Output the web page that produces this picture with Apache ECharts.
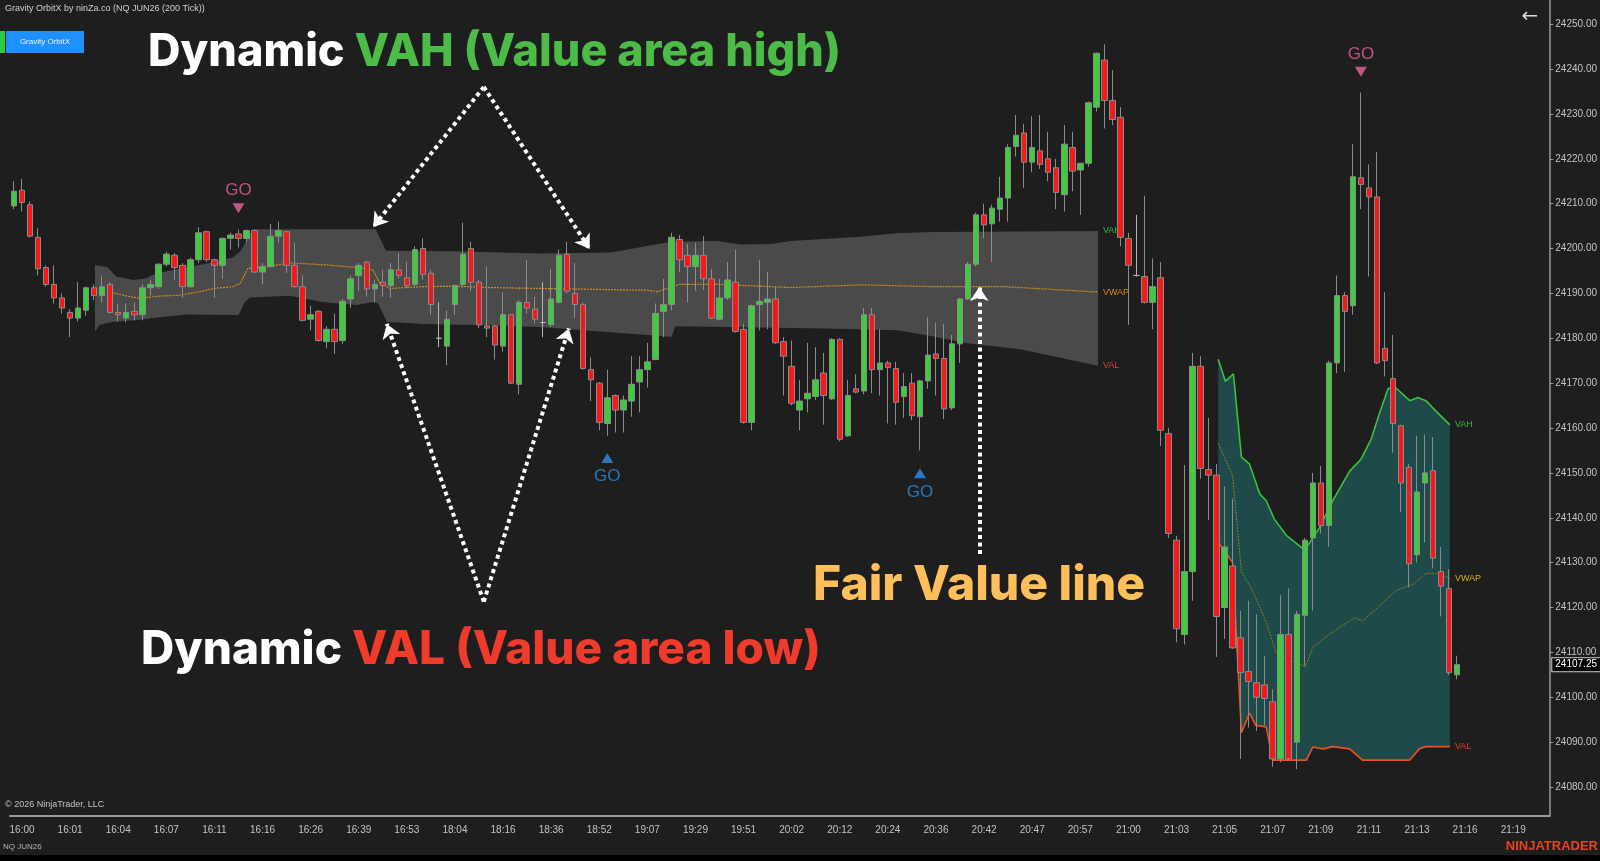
<!DOCTYPE html>
<html lang="en">
<head>
<meta charset="UTF-8">
<title>Gravity OrbitX</title>
<style>
  * { margin: 0; padding: 0; box-sizing: border-box; }
  html, body { height: 100%; background: #1e1e1e; overflow: hidden; }
  #box { width: 1600px; height: 861px; }
</style>
<script src="https://cdn.jsdelivr.net/npm/echarts@6/dist/echarts.min.js"></script>
</head>
<body>
<div id="box"></div>
<script>
// x axis time labels, one every 6 bars starting at bar 1
var timeLabels = ['16:00','16:01','16:04','16:07','16:11','16:16','16:26','16:39','16:53','18:04','18:16',
  '18:36','18:52','19:07','19:29','19:51','20:02','20:12','20:24','20:36','20:42','20:47','20:57','21:00',
  '21:03','21:05','21:07','21:09','21:11','21:13','21:16','21:19'];

// 200 tick bars: [open, close, low, high]
var candles = [
  [24209.5,24212.75,24208.75,24215],[24213,24210.25,24208.25,24215.5],[24209.75,24202.75,24202.5,24210.5],
  [24202.5,24195.5,24194,24204.5],[24195.75,24192,24191.5,24196.25],[24192,24189,24187.75,24196.25],
  [24189,24186.75,24185.5,24190],[24185.75,24184.5,24180.25,24186.5],[24184.5,24186.75,24183.75,24192.5],
  [24186.25,24191.25,24185,24191.5],[24191.25,24189.5,24188.5,24192],[24189.5,24191.5,24188,24194],
  [24192,24185.75,24185.5,24192.5],[24185.75,24185.25,24183.75,24187.75],[24184.5,24185.75,24183.5,24187.75],
  [24186,24185.25,24184,24188],[24185.25,24191.25,24184,24192],[24191.25,24192,24189.5,24193],
  [24191.5,24196.5,24191,24196.75],[24196.5,24198.75,24196,24199.25],[24198.5,24195.75,24193,24199],
  [24196.25,24191.5,24189,24196.75],[24191.5,24197.5,24191.25,24198],[24197.5,24203.5,24196.75,24204.75],
  [24203.75,24197.5,24197,24204],[24197.5,24196.25,24189,24197.75],[24196.25,24202.25,24193.25,24202.5],
  [24202.25,24203,24199.75,24203.5],[24203.25,24202.25,24200.25,24204.25],[24202.25,24204,24201.5,24204.25],
  [24204,24194.75,24194.5,24204.25],[24194.75,24196,24192,24196.75],[24196,24202.75,24195.75,24205.5],
  [24202.75,24204,24201.25,24206],[24203.75,24196.25,24194.5,24204],[24196.25,24191.5,24191.25,24201.25],
  [24191.5,24184,24183.75,24194],[24184.25,24185.25,24181.75,24187.25],[24186,24179.5,24179.25,24186.25],
  [24179.25,24182,24177.75,24182.75],[24182,24179.25,24176.5,24185.5],[24179.5,24188.25,24178.75,24188.75],
  [24188.75,24193.25,24186.75,24194],[24194,24196.25,24190.5,24196.75],[24197,24191,24189.25,24197],
  [24191,24192,24188,24193],[24192.5,24191.75,24189.25,24195.25],[24191.75,24195.25,24189,24196.75],
  [24195.25,24194,24193.25,24199],[24193.5,24191.75,24191.25,24197],[24192,24199.75,24191.5,24200.5],
  [24200,24194.25,24193,24202.25],[24194.5,24187.5,24185.25,24195.25],[24180,24180,24178,24188],
  [24178.25,24184.25,24174,24186.25],[24187.5,24191.75,24185.25,24192],[24192,24198.75,24191.25,24205.75],
  [24200,24192.5,24190.5,24201.5],[24192.5,24183,24182.25,24193],[24182.75,24182.25,24180.25,24196],
  [24182.75,24178.5,24175.25,24183],[24178.25,24185.25,24177,24190.25],[24185.25,24170,24169.75,24185.5],
  [24169.75,24188,24167.5,24188.5],[24188,24186.75,24185.5,24197.5],[24186.5,24184.25,24183.25,24189.25],
  [24183.5,24183.5,24180.25,24192.5],[24183,24188.75,24182.5,24195.5],[24188,24198.5,24187.75,24199.75],
  [24198.75,24190.5,24190,24201.5],[24190,24187.5,24184.5,24196.75],[24187.5,24173.25,24173,24188],
  [24173,24170.75,24166,24175.75],[24170,24161.25,24159.5,24170.25],[24161,24166.75,24158.25,24173],
  [24167.25,24164,24159,24167.5],[24164,24166.25,24159,24167.25],[24166,24169.75,24162.5,24176],
  [24170.25,24173,24163.5,24176],[24173,24174.75,24169,24179],[24175.25,24185.5,24175.25,24187.75],
  [24186,24187.5,24180.25,24193.25],[24187.5,24202.5,24186.25,24203.5],[24202,24197.5,24194.75,24203],
  [24198.5,24196,24188,24201],[24196,24198.5,24190.5,24201.25],[24198.5,24193.25,24190.75,24202.75],
  [24193.25,24184.5,24184.25,24195.5],[24184.25,24189,24184,24193.25],[24189,24193,24188.5,24197],
  [24192.5,24181.5,24181.25,24199.75],[24182,24161.25,24161,24183.25],[24161.25,24187.25,24159.5,24187.5],
  [24187.5,24188.25,24181.75,24197.5],[24188,24188.75,24182,24194.75],[24188.75,24179,24178.75,24191.5],
  [24179.25,24176,24167.25,24180.25],[24173.75,24165.5,24165,24179.5],[24164,24166,24159.5,24170.75],
  [24166.5,24167.75,24163.5,24179],[24167,24170.75,24166.25,24178],[24172.25,24167.25,24160.75,24176.75],
  [24166.5,24179.75,24166.25,24180],[24179.75,24157.5,24157,24180],[24158.25,24167.25,24158,24170.75],
  [24168.75,24168,24167.75,24172],[24168.25,24185.25,24167.5,24186.75],[24185.25,24173,24167.75,24186.75],
  [24173,24174.5,24167.25,24182],[24174.5,24173.5,24161,24175],[24173.25,24165.75,24160.75,24174.75],
  [24167,24169.25,24162.25,24172.25],[24170,24162.75,24161.75,24172.25],[24162.5,24170.5,24155,24170.75],
  [24170.5,24176.25,24168.75,24184.75],[24176.5,24175.5,24167.25,24183.5],[24175.5,24164.25,24162,24183.25],
  [24164.5,24178.75,24164,24180.75],[24178.75,24188.75,24174.5,24189],[24188.75,24196.5,24188.5,24197],
  [24196.5,24207.5,24196,24208],[24207.5,24205.25,24202.25,24210],[24205.5,24209,24197,24209.75],
  [24208.75,24211.25,24206,24216],[24211.25,24222.5,24206,24223.25],[24222.75,24225.25,24220.5,24229.75],
  [24225.75,24219.25,24213.5,24227.75],[24219.25,24222.5,24217,24229.5],[24221.75,24218.75,24217.75,24229.75],
  [24220,24217,24215,24226],[24218,24212.5,24208.75,24220],[24212,24223.25,24208.25,24227.5],
  [24222.5,24217.25,24212.75,24226],[24217.5,24219,24207.5,24219],[24219,24232.5,24218.25,24232.75],
  [24231.5,24243.5,24230.5,24243.75],[24242,24233,24226.75,24245.5],[24233,24228.75,24227.5,24239.75],
  [24229.25,24202.5,24200.5,24231.5],[24202.25,24196.25,24183,24203.5],[24194,24194,24193.75,24207.5],
  [24193.75,24188,24187.75,24211.75],[24188,24191.5,24182,24197.75],[24193.5,24159.5,24156,24197],
  [24158.75,24136.5,24135.5,24160],[24135,24115.25,24112.25,24136],[24114,24128,24111.75,24151.75],
  [24128,24173.75,24121.5,24176.75],[24173.75,24151,24148.75,24176],[24150.75,24149.5,24139.5,24162.25],
  [24149.5,24118,24109,24152],[24120,24133.5,24113,24147],[24129.25,24111,24110.75,24144.25],
  [24113.25,24105.5,24086.25,24119.25],[24105.75,24103.5,24093.25,24121.5],[24103.25,24100,24092.5,24118.5],
  [24102.75,24099.75,24093.75,24109.25],[24099,24086.25,24084.5,24101.75],[24086.25,24114,24085.5,24122.75],
  [24114,24086.25,24086,24124.25],[24090,24118.5,24084,24119.25],[24118.25,24135,24107,24135.5],
  [24135.5,24147.75,24119.25,24150],[24147.75,24138.25,24136.5,24151.5],[24138.25,24174.5,24133.5,24175],
  [24174.5,24189.5,24172.25,24194],[24189.5,24186,24172.5,24190.25],[24187.25,24216,24185.25,24223.25],
  [24215.75,24214.25,24208.75,24234.75],[24213.5,24211.5,24193.75,24218.75],[24211.5,24174.5,24174.25,24221.5],
  [24177.75,24175,24171.5,24190.25],[24171,24161,24154.5,24180.75],[24160.5,24147.75,24141.25,24160.75],
  [24151.25,24129.75,24124.5,24152],[24131.75,24145.75,24130,24158.25],[24147.75,24150,24134.5,24158.5],
  [24150.5,24131,24128.75,24158],[24128,24124.75,24118,24133.5],[24124.25,24105.5,24105,24128.5],
  [24105,24107.25,24104,24109.25]
];
var lastPrice = 24107.25;

// first value area (grey), [bar, price]
var vah1 = [[10.1,24196.3],[11.6,24195.9],[12.8,24193.7],[14.9,24193],[16.5,24193.4],[17.8,24194.5],[19.9,24195.2],
  [21.5,24195.9],[23.2,24196.3],[24.9,24197],[27.3,24198],[28.3,24199.5],[29.8,24204.3],[45.1,24204.3],
  [46.4,24199.5],[55,24199.4],[65.6,24198.9],[74.4,24199.1],[77.2,24200],[82,24201.5],[87.8,24201.7],
  [90.5,24200.9],[94.5,24201],[96.8,24201.7],[105.6,24202.6],[110.1,24203.4],[114.6,24203.7],[135.2,24203.9]];
var val1 = [[10.1,24181.5],[10.7,24183],[12.4,24183.7],[14.1,24183.9],[15.7,24184.1],[18.2,24184.7],[19.9,24185],
  [21.5,24185.3],[28,24185.2],[28.8,24188.1],[29.4,24189.1],[34.4,24189.5],[38.5,24188.1],[42.7,24187.4],
  [44.8,24188.1],[45.4,24187.8],[46.5,24183.7],[51,24183.2],[59.4,24182.9],[65.6,24182.5],[79,24180.7],
  [82,24180.3],[82.5,24182.7],[101.2,24182.2],[110.1,24181.8],[113.7,24180.7],[119,24178.9],[125.7,24177.5],
  [135.2,24173.9]];
var vwap1 = [[12.4,24190.1],[14.1,24189.4],[15.7,24188.9],[18.2,24189.4],[20.7,24189.6],[23.2,24190.4],[24.9,24191.1],
  [27.3,24191.5],[28.2,24192.2],[29.2,24195.6],[31.5,24195.9],[34.4,24196.8],[39.4,24196.3],[43.6,24195.6],
  [44.8,24195.2],[45.6,24192.4],[46.9,24191.1],[51,24191.5],[55.2,24191.6],[59.4,24191.3],[65.6,24191.1],
  [79,24190.7],[80.3,24190.4],[83,24192],[87.9,24192],[96.8,24191.3],[105.7,24191.9],[114.6,24191.5],
  [123.5,24191.5],[135.2,24190.3]];

// second value area (teal)
var vah2 = [[150.2,24175.3],[151.1,24170.4],[152.1,24172.1],[153.1,24153.5],[154.1,24152],[155.4,24145.3],
  [156.2,24143.8],[157.2,24139.7],[158.7,24136.1],[161,24132.8],[162.8,24137.7],[164.5,24143.8],[166.6,24150.4],
  [168,24153],[169.3,24157.6],[170.3,24163.2],[171.4,24168.8],[172.2,24169.2],[174.1,24166.1],[175.1,24166.8],
  [176.1,24166.1],[177.4,24163.7],[179.1,24160.7]];
var val2 = [[150.2,24134.6],[152,24130],[153.1,24092.1],[154.1,24096.5],[154.9,24093.7],[156.2,24093.4],
  [157,24086],[161.2,24086],[162,24088.9],[163.3,24088.5],[164.5,24089],[166.6,24088.5],[168.2,24086],
  [174.1,24086],[175.3,24088.5],[176.1,24089],[179.1,24089]];
var vwap2 = [[150.2,24156.6],[152,24149.4],[153.1,24127.9],[154.3,24124.4],[156.2,24116.7],[157.4,24110],
  [159.5,24108],[161.1,24106.8],[162,24111.1],[164.1,24114.1],[165.7,24116],[167.2,24117.7],[168.2,24117],
  [170.3,24120.3],[172.4,24123.8],[174.5,24125.2],[176.1,24127.6],[177.8,24127.6],[179.1,24126.4]];

// GO signals [bar, price]
var goSell = [[28, 24209], [168, 24239.4]];
var goBuy = [[74, 24153.3], [113, 24149.9]];

// white dotted annotation arrows [from, to] in [bar, price]
var arrows = [
  [[58.6, 24236], [44.8, 24204.8]],
  [[58.6, 24236], [71.8, 24199.9]],
  [[58.6, 24121.3], [46.5, 24183.2]],
  [[58.6, 24121.3], [69.2, 24182.2]],
  [[120.4, 24131.9], [120.4, 24191.4]]
];

var barCount = 192;
var categories = [];
for (var i = 0; i < barCount; i++) {
  var k = (i - 1) / 6;
  categories.push(i >= 1 && k === Math.floor(k) && timeLabels[k] ? timeLabels[k] : '');
}

var box = document.getElementById('box');
var myChart = echarts.init(box);
var axisFont = 'Liberation Sans, Arial, sans-serif';

function bandSeries(top, bottom, fill) {
  return {
    type: 'custom',
    xAxisIndex: 1,
    silent: true,
    z: 1,
    data: [[top[0][0], top[0][1]]],
    renderItem: function (params, api) {
      var pts = top.map(function (p) { return api.coord(p); });
      var back = bottom.slice().reverse().map(function (p) { return api.coord(p); });
      return { type: 'polygon', shape: { points: pts.concat(back) }, style: { fill: fill } };
    }
  };
}

function edgeLine(data, name, color, width, type, labelColor) {
  return {
    type: 'line',
    xAxisIndex: 1,
    data: data,
    symbol: 'none',
    silent: true,
    z: 1.5,
    lineStyle: { color: color, width: width, type: type },
    endLabel: { show: true, formatter: name, color: labelColor, fontSize: 9, fontFamily: axisFont, distance: 5 }
  };
}

var onlyLabelled = function (index, value) { return value !== ''; };

myChart.setOption({
  backgroundColor: '#1e1e1e',
  animation: false,
  grid: { left: 10, right: 50, top: 0, bottom: 45 },
  xAxis: [{
    type: 'category',
    data: categories,
    boundaryGap: true,
    axisLine: { lineStyle: { color: '#9a9a9a', width: 2 } },
    axisTick: { interval: onlyLabelled, alignWithLabel: true, length: 4, lineStyle: { color: '#9a9a9a' } },
    axisLabel: { interval: onlyLabelled, color: '#c4c4c4', fontSize: 10, fontFamily: axisFont, margin: 9 },
    splitLine: { show: false }
  }, {
    type: 'value',
    min: -0.5,
    max: barCount - 0.5,
    show: false
  }],
  yAxis: {
    type: 'value',
    position: 'right',
    min: 24073.54,
    max: 24255.38,
    minInterval: 10,
    maxInterval: 10,
    scale: true,
    axisLine: { show: true, onZero: false, lineStyle: { color: '#9a9a9a', width: 1.5 } },
    axisTick: { show: true, length: 4, lineStyle: { color: '#9a9a9a' } },
    axisLabel: {
      color: '#c4c4c4', fontSize: 10, fontFamily: axisFont, margin: 6,
      showMinLabel: false, showMaxLabel: false,
      formatter: function (v) { return v.toFixed(2); }
    },
    splitLine: { show: false }
  },
  series: [
    bandSeries(vah1, val1, '#4a4a4a'),
    bandSeries(vah2, val2, '#1e4a4a'),
    edgeLine(vah1, 'VAH', 'transparent', 0, 'solid', '#34b834'),
    edgeLine(val1, 'VAL', 'transparent', 0, 'solid', '#e0402a'),
    edgeLine(vwap1, 'VWAP', '#d18a1e', 1.2, [2, 1], '#d48c1c'),
    edgeLine(vah2, 'VAH', '#3cc13c', 1.6, 'solid', '#34b834'),
    edgeLine(val2, 'VAL', '#e8531f', 1.6, 'solid', '#e0402a'),
    edgeLine(vwap2, 'VWAP', '#8c7c2c', 1, [2, 1], '#d8b020'),
    {
      type: 'candlestick',
      data: candles,
      barWidth: 6,
      z: 3,
      itemStyle: {
        color: '#3ccc3c', color0: '#f21a1a',
        borderColor: '#8c8c8c', borderColor0: '#8c8c8c', borderColorDoji: '#b4b4b4',
        borderWidth: 1
      },
      markLine: {
        silent: true,
        symbol: 'none',
        lineStyle: { color: 'transparent', width: 0 },
        data: [{ yAxis: lastPrice }],
        label: {
          position: 'end', distance: 3,
          formatter: lastPrice.toFixed(2),
          color: '#fff', fontSize: 10, fontFamily: axisFont,
          backgroundColor: '#000', borderColor: '#d0d0d0', borderWidth: 1, padding: [2, 3, 1, 3]
        }
      }
    },
    {
      type: 'scatter',
      xAxisIndex: 1,
      data: goSell,
      symbol: 'triangle',
      symbolRotate: 180,
      symbolSize: [12, 10],
      z: 5,
      itemStyle: { color: '#e8649e' },
      label: { show: true, formatter: 'GO', position: 'top', distance: 4, color: '#e8649e', fontSize: 17, fontFamily: axisFont }
    },
    {
      type: 'scatter',
      xAxisIndex: 1,
      data: goBuy,
      symbol: 'triangle',
      symbolSize: [12, 10],
      z: 5,
      itemStyle: { color: '#2b8fe6' },
      label: { show: true, formatter: 'GO', position: 'bottom', distance: 5, color: '#2b8fe6', fontSize: 17, fontFamily: axisFont }
    },
    {
      type: 'lines',
      coordinateSystem: 'cartesian2d',
      xAxisIndex: 1,
      z: 6,
      silent: true,
      symbol: ['none', 'arrow'],
      symbolSize: 14,
      lineStyle: { color: '#ffffff', width: 4, type: [4, 3.5], opacity: 1 },
      data: arrows.map(function (a) { return { coords: a }; })
    }
  ],
  graphic: [
    { type: 'text', left: 5, top: 4, style: { text: 'Gravity OrbitX by ninZa.co (NQ JUN26 (200 Tick))', fill: '#cfcfcf', font: '9px ' + axisFont } },
    { type: 'rect', left: 0, top: 31, shape: { width: 5, height: 22 }, style: { fill: '#2ecc40' } },
    { type: 'rect', left: 6, top: 31, shape: { width: 78, height: 22 }, style: { fill: '#1e90ff' } },
    { type: 'text', x: 45, y: 42, style: { text: 'Gravity OrbitX', fill: '#e8f2ff', font: '8px ' + axisFont, align: 'center', verticalAlign: 'middle' } },
    { type: 'text', x: 1530, y: 17, style: { text: '←', fill: '#d8d8d8', font: '20px DejaVu Sans', align: 'center', verticalAlign: 'middle' } },
    { type: 'text', left: 5, top: 800, style: { text: '© 2026 NinjaTrader, LLC', fill: '#c4c4c4', font: '9px ' + axisFont } },
    { type: 'text', left: 3, top: 843, style: { text: 'NQ JUN26', fill: '#b4b4b4', font: '8px ' + axisFont } },
    { type: 'text', right: 2, top: 840, style: { text: 'NINJATRADER', fill: '#e5461e', font: 'bold 13px ' + axisFont } },
    { type: 'rect', left: 0, top: 855, shape: { width: 1600, height: 6 }, style: { fill: '#000' } },
    {
      type: 'text', x: 148, y: 52, z: 10,
      style: {
        text: '{w|Dynamic }{g|VAH (Value area high)}', verticalAlign: 'middle',
        rich: {
          w: { fill: '#ffffff', font: '800 45px Inter' },
          g: { fill: '#4cbb47', font: '800 45px Inter' }
        }
      }
    },
    {
      type: 'text', x: 141, y: 650, z: 10,
      style: {
        text: '{w|Dynamic }{r|VAL (Value area low)}', verticalAlign: 'middle',
        rich: {
          w: { fill: '#ffffff', font: '800 46px Inter' },
          r: { fill: '#ee3b2b', font: '800 46px Inter' }
        }
      }
    },
    {
      type: 'text', x: 813, y: 586, z: 10,
      style: { text: 'Fair Value line', fill: '#ffc05c', font: '800 48px Inter', verticalAlign: 'middle' }
    }
  ]
});

window.onresize = function () {
  myChart.resize();
};
</script>
</body>
</html>
